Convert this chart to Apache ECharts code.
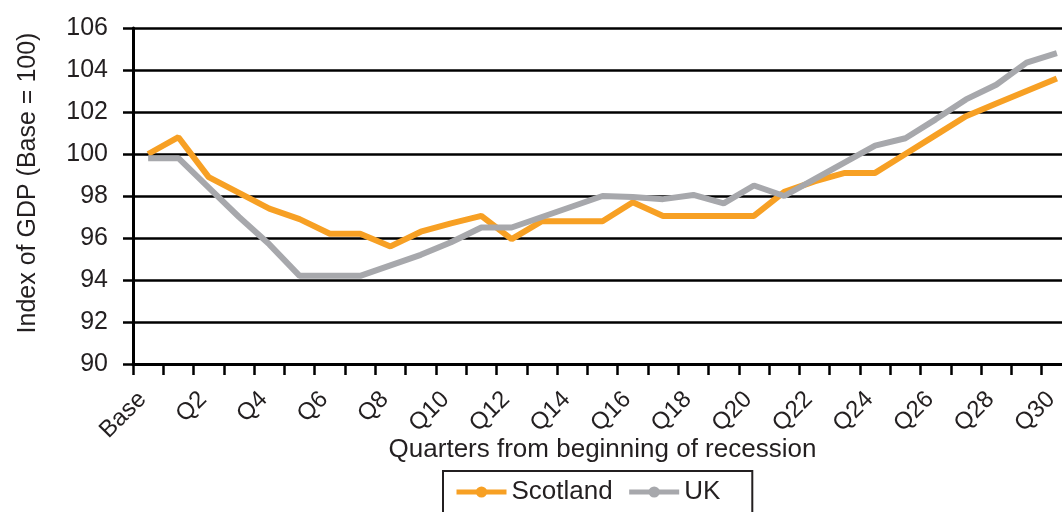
<!DOCTYPE html>
<html>
<head>
<meta charset="utf-8">
<title>Index of GDP</title>
<script src="https://cdn.jsdelivr.net/npm/echarts@6/dist/echarts.min.js"></script>
<style>
  html, body { margin: 0; padding: 0; background: #fff; }
  #chart { width: 1062px; height: 512px; }
</style>
</head>
<body>
<div id="chart"></div>
<script>
// quarters from the start of the recession
const quarters = ['Base','Q1','Q2','Q3','Q4','Q5','Q6','Q7','Q8','Q9','Q10',
  'Q11','Q12','Q13','Q14','Q15','Q16','Q17','Q18','Q19','Q20',
  'Q21','Q22','Q23','Q24','Q25','Q26','Q27','Q28','Q29','Q30'];

// values
const scotland = [100.0, 100.8, 98.9, 98.15, 97.4, 96.9, 96.2, 96.2, 95.6, 96.3, 96.7,
  97.05, 95.95, 96.8, 96.8, 96.8, 97.7, 97.05, 97.05, 97.05, 97.05,
  98.2, 98.7, 99.1, 99.1, 100.0, 100.9, 101.8, 102.4, 103.0, 103.6];
const uk = [99.8, 99.8, 98.4, 97.0, 95.7, 94.2, 94.2, 94.2, 94.7, 95.2, 95.8,
  96.5, 96.5, 97.0, 97.5, 98.0, 97.95, 97.85, 98.05, 97.65, 98.5,
  98.0, 98.8, 99.6, 100.4, 100.75, 101.65, 102.6, 103.3, 104.35, 104.8];

const yMin = 90;
const yMax = 106;
const yStep = 2;

document.addEventListener('DOMContentLoaded', function(){
  const chart = echarts.init(document.getElementById('chart'));
  const font = '"Liberation Sans", Arial, sans-serif';
  const ink = '#231f20';

  const option = {
    animation: false,
    backgroundColor: '#fff',
    grid: { left: 133, top: 28, width: 939, height: 336, containLabel: false, outerBoundsMode: 'none' },
    legend: {
      left: 443,
      top: 471,
      padding: [8, 32, 30, 11],
      borderColor: ink,
      borderWidth: 2,
      itemWidth: 50,
      itemHeight: 14,
      itemGap: 14,
      lineStyle: { width: 5 },
      textStyle: { color: ink, fontSize: 26, fontFamily: font },
      data: ['Scotland', 'UK']
    },
    xAxis: {
      type: 'category',
      data: quarters,
      boundaryGap: true,
      name: 'Quarters from beginning of recession',
      nameLocation: 'middle',
      nameGap: 73,
      nameMoveOverlap: false,
      nameTextStyle: { color: ink, fontSize: 26, fontFamily: font },
      axisLine: { lineStyle: { color: '#000', width: 3 } },
      axisTick: { show: true, interval: 0, length: 11, lineStyle: { color: '#000', width: 2.5 } },
      axisLabel: { interval: 1, rotate: 45, margin: 26, padding: [0, 8, 0, 0], color: ink, fontSize: 24, fontFamily: font },
      splitLine: { show: false }
    },
    yAxis: {
      type: 'value',
      min: yMin,
      max: yMax,
      interval: yStep,
      name: 'Index of GDP (Base = 100)',
      nameLocation: 'middle',
      nameGap: 92,
      nameMoveOverlap: false,
      nameTextStyle: { color: ink, fontSize: 25, fontFamily: font, padding: [0, 0, 0, 26] },
      axisLine: { show: true, lineStyle: { color: '#000', width: 3 } },
      axisTick: { show: true, length: 10, lineStyle: { color: '#000', width: 2.5 } },
      axisLabel: { margin: 25, color: ink, fontSize: 25, fontFamily: font },
      splitLine: { show: true, lineStyle: { color: '#000', width: 2.5 } }
    },
    series: [
      {
        name: 'Scotland',
        type: 'line',
        data: scotland,
        symbol: 'circle',
        symbolSize: 12,
        showSymbol: false,
        itemStyle: { color: '#f7a024' },
        lineStyle: { color: '#f7a024', width: 6 }
      },
      {
        name: 'UK',
        type: 'line',
        data: uk,
        symbol: 'circle',
        symbolSize: 12,
        showSymbol: false,
        itemStyle: { color: '#a7a8ac' },
        lineStyle: { color: '#a7a8ac', width: 6 }
      }
    ]
  };

  chart.setOption(option);
});
</script>
</body>
</html>
